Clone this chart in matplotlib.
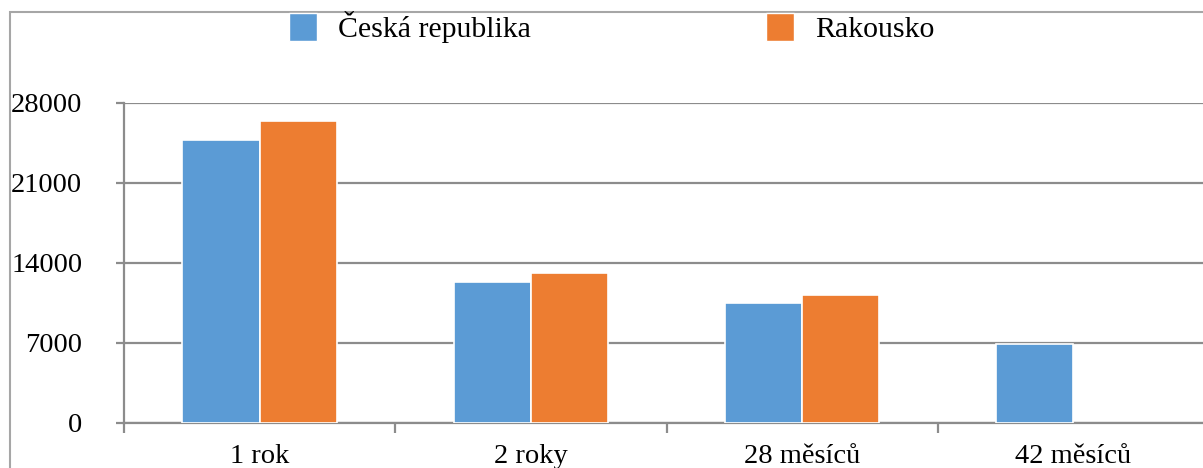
import numpy as np
import matplotlib
matplotlib.use("Agg")
import matplotlib.pyplot as plt
from matplotlib.patches import Rectangle, Patch

# data
categories = ["1 rok", "2 roky", "28 měsíců", "42 měsíců"]
cesko = [24800, 12300, 10500, 6950]
rakousko = [26400, 13100, 11200, np.nan]
series_names = ["Česká republika", "Rakousko"]
yticks = [0, 7000, 14000, 21000, 28000]

BLUE = "#5B9BD5"
ORANGE = "#ED7D31"
GRID = "#8C8C8C"

plt.rcParams["font.family"] = ["Liberation Serif", "DejaVu Serif"]
plt.rcParams["font.size"] = 20

W, H = 1203, 468
fig = plt.figure(figsize=(W / 100, H / 100), dpi=100)

# outer chart frame
fig.patches.append(Rectangle((10 / W, -0.1), 1.2, 1 - 12 / H + 0.1,
                             transform=fig.transFigure, fill=False,
                             edgecolor="#A6A6A6", linewidth=1.5))

# plot area
left, right = 124, 1209
bottom, top = 423, 103
ax = fig.add_axes([left / W, (H - bottom) / H, (right - left) / W, (bottom - top) / H])

x = np.arange(len(categories))
bw = 0.285
ax.bar(x - bw / 2, cesko, bw, color=BLUE, edgecolor="white", linewidth=1.2, zorder=3)
ax.bar(x + bw / 2, rakousko, bw, color=ORANGE, edgecolor="white", linewidth=1.2, zorder=3)

ax.set_xlim(-0.5, len(categories) - 0.5)
ax.set_ylim(0, 28000)
ax.set_yticks(yticks)
ax.set_yticklabels([str(v) for v in yticks], fontsize=20.5)
ax.yaxis.grid(True, color=GRID, linewidth=1.6, zorder=1)
ax.set_axisbelow(True)

# category labels centred, ticks on the boundaries
ax.set_xticks(np.arange(len(categories) + 1) - 0.5)
ax.set_xticklabels([""] * (len(categories) + 1))
ax.set_xticks(x, minor=True)
ax.set_xticklabels(categories, minor=True, fontsize=20.5)
ax.tick_params(axis="x", which="major", length=7, width=1.6, color=GRID, direction="out")
ax.tick_params(axis="x", which="minor", length=0, pad=15)
ax.tick_params(axis="y", length=6, width=1.6, color=GRID, direction="out", pad=24)

for s in ["top", "right"]:
    ax.spines[s].set_visible(False)
for s in ["left", "bottom"]:
    ax.spines[s].set_color(GRID)
    ax.spines[s].set_linewidth(1.6)

handles = [Patch(facecolor=BLUE, edgecolor="white"), Patch(facecolor=ORANGE, edgecolor="white")]
fig.legend(handles, series_names, loc="upper left", bbox_to_anchor=(289 / W, 1 - 11 / H),
           ncol=2, frameon=False, fontsize=21.5, handlelength=0.95, handleheight=1.1,
           handletextpad=0.7, columnspacing=7.85, borderpad=0, borderaxespad=0)

fig.savefig("out.png", dpi=100)
